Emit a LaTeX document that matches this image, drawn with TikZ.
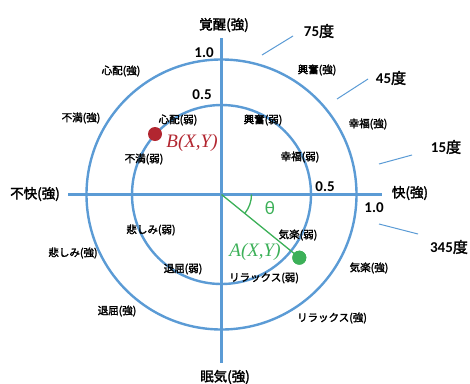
\documentclass[tikz,border=0pt]{standalone}
\usepackage{fontspec}
\usetikzlibrary{angles}
\setmainfont{Carlito}
\newfontfamily\jp[AutoFakeBold=2.2]{Noto Sans CJK JP}
\newfontfamily\tms{Liberation Serif}
\definecolor{axblue}{RGB}{91,155,213}
\definecolor{ptgreen}{RGB}{60,176,88}
\definecolor{ptred}{RGB}{178,38,48}
\begin{document}
\begin{tikzpicture}[x=1pt,y=-1pt,
  emo/.style={font=\jp\bfseries\fontsize{10.5}{11}\selectfont, inner sep=0pt},
  axl/.style={font=\jp\bfseries\fontsize{13.5}{14}\selectfont, inner sep=0pt},
  num/.style={font=\bfseries\fontsize{15}{16}\selectfont, inner sep=0pt},
  circ/.style={draw=axblue, line width=2.4pt},
  axis/.style={draw=axblue, line width=2.6pt},
  degline/.style={draw=axblue, line width=1pt},
  ptlabel/.style={font=\tms\itshape\fontsize{19}{20}\selectfont, inner sep=0pt},
  dot/.style={circle, inner sep=0pt, minimum size=14pt}
]
\useasboundingbox (0,0) rectangle (470,383);
\coordinate (O) at (221.5,194.5);
\coordinate (top) at (221.5,38);
\coordinate (bot) at (221.5,363);
\coordinate (lft) at (68,194.5);
\coordinate (rgt) at (382,194.5);
% circles
\draw[circ] (O) circle (135pt);
\draw[circ] (O) circle (89.5pt);
% axes
\draw[axis] (top) -- (bot);
\draw[axis] (lft) -- (rgt);
% axis labels
\node[axl] (kakusei) at (224,25) {覚醒(強)};
\node[axl] (nemuke) at (225,377) {眠気(強)};
\node[axl] (fukai) at (35,194) {不快(強)};
\node[axl] (kai) at (410,193) {快(強)};
% scale numbers
\node[num] (n1t) at (204,53) {1.0};
\node[num] (n5t) at (202,95) {0.5};
\node[num] (n5r) at (325,187) {0.5};
\node[num] (n1r) at (374,208) {1.0};
% degree markers
\coordinate (d75a) at (262,55); \coordinate (d75b) at (293,36);
\coordinate (d45a) at (337,99); \coordinate (d45b) at (368,79);
\coordinate (d15a) at (379,164); \coordinate (d15b) at (412,155);
\coordinate (d345a) at (379,224); \coordinate (d345b) at (418,234);
\draw[degline] (d75a) -- (d75b);
\draw[degline] (d45a) -- (d45b);
\draw[degline] (d15a) -- (d15b);
\draw[degline] (d345a) -- (d345b);
\node[num] (t75) at (319,31) {75{\jp\bfseries 度}};
\node[num] (t45) at (391,78) {45{\jp\bfseries 度}};
\node[num] (t15) at (446,147) {15{\jp\bfseries 度}};
\node[num] (t345) at (449,247) {345{\jp\bfseries 度}};
% emotion labels
\node[emo] (e1) at (121,71) {心配(強)};
\node[emo] (e2) at (81,118) {不満(強)};
\node[emo] (e3) at (178,120) {心配(弱)};
\node[emo] (e4) at (144,159) {不満(弱)};
\node[emo] (e5) at (317,70) {興奮(強)};
\node[emo] (e6) at (368,124) {幸福(強)};
\node[emo] (e7) at (263,120) {興奮(弱)};
\node[emo] (e8) at (300,157) {幸福(弱)};
\node[emo] (e9) at (298,235) {気楽(弱)};
\node[emo] (e10) at (369,268) {気楽(強)};
\node[emo] (e11) at (264,278) {リラックス(弱)};
\node[emo] (e12) at (332,318) {リラックス(強)};
\node[emo] (e13) at (151,230) {悲しみ(弱)};
\node[emo] (e14) at (73,253) {悲しみ(強)};
\node[emo] (e15) at (183,269) {退屈(弱)};
\node[emo] (e16) at (117,311) {退屈(強)};
% point A
\node[dot, fill=ptgreen] (A) at (299.3,257.7) {};
\draw[ptgreen, line width=1.3pt] (O) -- (A.center);
\node[dot, fill=ptgreen] at (A) {};
\pic[draw=ptgreen, line width=1.3pt, angle radius=30pt] {angle = A--O--rgt};
\node[font=\fontsize{19}{20}\selectfont, text=ptgreen, inner sep=0pt] (theta) at (270,208) {θ};
\node[ptlabel, text=ptgreen] (Alab) at (255,252) {A(X,Y)};
% point B
\node[dot, fill=ptred] (B) at (155,134) {};
\node[ptlabel, text=ptred] (Blab) at (192,143) {B(X,Y)};
\end{tikzpicture}
\end{document}
